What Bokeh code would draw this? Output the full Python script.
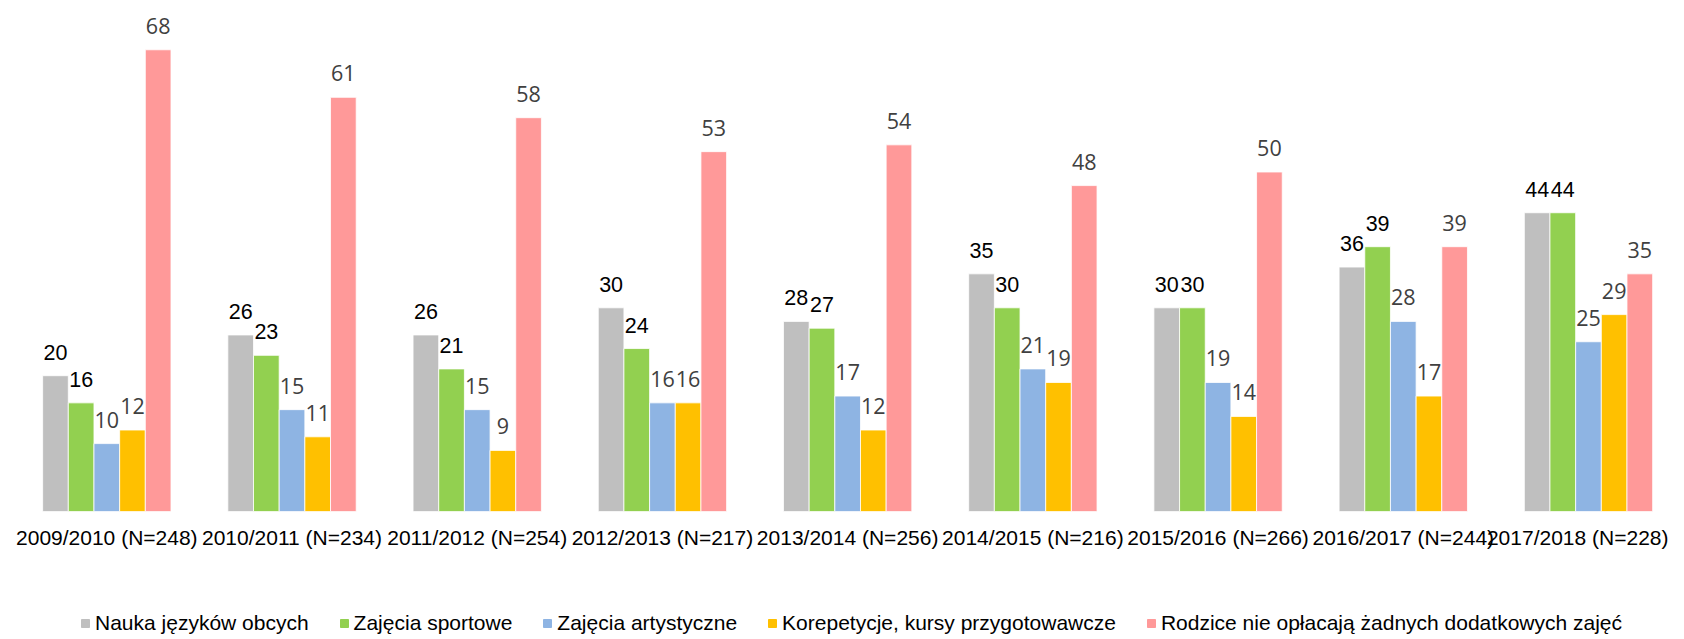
from bokeh.plotting import figure
from bokeh.layouts import column
from bokeh.models import ColumnDataSource, LabelSet, Range1d, FixedTicker, Legend, LegendItem
from bokeh.core.properties import value
from bokeh.embed import file_html
from bokeh.resources import INLINE

categories = ["2009/2010 (N=248)", "2010/2011 (N=234)", "2011/2012 (N=254)",
              "2012/2013 (N=217)", "2013/2014 (N=256)", "2014/2015 (N=216)",
              "2015/2016 (N=266)", "2016/2017 (N=244)", "2017/2018 (N=228)"]
series_names = ["Nauka języków obcych", "Zajęcia sportowe", "Zajęcia artystyczne",
                "Korepetycje, kursy przygotowawcze",
                "Rodzice nie opłacają żadnych dodatkowych zajęć"]
nauka = [20, 26, 26, 30, 28, 35, 30, 36, 44]
sport = [16, 23, 21, 24, 27, 30, 30, 39, 44]
art = [10, 15, 15, 16, 17, 21, 19, 28, 25]
korep = [12, 11, 9, 16, 12, 19, 14, 17, 29]
brak = [68, 61, 58, 53, 54, 48, 50, 39, 35]

series = [nauka, sport, art, korep, brak]
colors = ["#BFBFBF", "#92D050", "#8EB4E3", "#FFC000", "#FF9999"]
label_colors = ["#000000", "#000000", "#404040", "#404040", "#404040"]
label_fonts = ["Liberation Sans", "Liberation Sans", "Open Sans", "Open Sans", "Open Sans"]

W = 1668
p = figure(width=W, height=600, output_backend="svg", toolbar_location=None,
           x_range=Range1d(-0.574, 8.432), y_range=Range1d(0, 75.26),
           y_axis_location=None, min_border_left=0, min_border_right=0,
           min_border_top=0, min_border_bottom=89)
p.outline_line_color = None
p.xgrid.grid_line_color = None
p.ygrid.grid_line_color = None

bw = 0.1386
for k, (vals, col) in enumerate(zip(series, colors)):
    xs = [i + (k - 2) * bw for i in range(len(categories))]
    src = ColumnDataSource(dict(x=xs, top=vals, txt=[str(v) for v in vals]))
    p.vbar(x="x", top="top", bottom=0, width=bw, source=src,
           fill_color=col, line_color="white", line_width=0.8)
    lbl = LabelSet(x="x", y="top", text="txt", source=src, y_offset=16,
                   text_align="center", text_baseline="alphabetic",
                   text_font=value(label_fonts[k]), text_font_size="21.5px",
                   text_color=label_colors[k])
    p.add_layout(lbl)

ax = p.xaxis[0]
ax.ticker = FixedTicker(ticks=list(range(len(categories))))
ax.major_label_overrides = {i: c for i, c in enumerate(categories)}
ax.major_label_text_font = "Liberation Sans"
ax.major_label_text_font_size = "21px"
ax.major_label_text_color = "#000000"
ax.major_label_standoff = 14
ax.major_tick_line_color = None
ax.minor_tick_line_color = None
ax.axis_line_color = None
ax.major_tick_out = 0
ax.major_tick_in = 0

# legend strip (legend swatches only; the dummy glyph sits outside the visible range)
leg = figure(width=W, height=35, output_backend="svg", toolbar_location=None,
             x_range=Range1d(0, 1), y_range=Range1d(0, 1),
             x_axis_location=None, y_axis_location=None,
             min_border_left=0, min_border_right=0, min_border_top=0, min_border_bottom=0)
leg.outline_line_color = None
leg.xgrid.grid_line_color = None
leg.ygrid.grid_line_color = None
items = []
for name, col in zip(series_names, colors):
    r = leg.vbar(x=[-10], top=[-10], bottom=[-11], width=0.1, fill_color=col, line_color=col)
    items.append(LegendItem(label=name, renderers=[r]))
legend = Legend(items=items, orientation="horizontal", location=(80, 0),
                label_text_font="Liberation Sans", label_text_font_size="21px",
                label_text_color="#000000", glyph_width=10, glyph_height=10,
                label_standoff=5, spacing=30, padding=0, margin=0,
                border_line_color=None, background_fill_alpha=0)
leg.add_layout(legend)

layout = column(p, leg, spacing=0)
open("out.html", "w").write(file_html(layout, INLINE))
